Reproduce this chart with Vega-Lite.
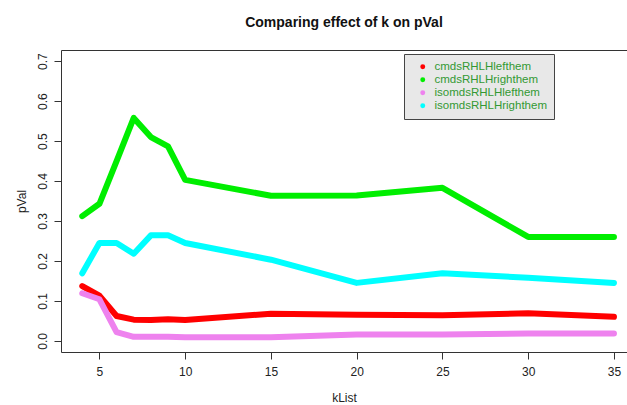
{
  "$schema": "https://vega.github.io/schema/vega-lite/v6.json",
  "autosize": {"type": "none"},
  "padding": {"left": 61, "top": 50, "right": 0, "bottom": 53},
  "width": 566,
  "height": 302,
  "background": "white",
  "title": {"text": "Comparing effect of k on pVal", "fontSize": 14, "font": "Liberation Sans", "fontWeight": "bold", "color": "#111111", "anchor": "middle", "offset": 20},
  "config": {"view": {"stroke": "#333333", "strokeWidth": 1}, "font": "Liberation Sans"},
  "data": {"values": [
    {"k": 4, "method": "cmdsRHLHlefthem", "pVal": 0.137},
    {"k": 5, "method": "cmdsRHLHlefthem", "pVal": 0.113},
    {"k": 6, "method": "cmdsRHLHlefthem", "pVal": 0.062},
    {"k": 7, "method": "cmdsRHLHlefthem", "pVal": 0.053},
    {"k": 8, "method": "cmdsRHLHlefthem", "pVal": 0.052},
    {"k": 9, "method": "cmdsRHLHlefthem", "pVal": 0.054},
    {"k": 10, "method": "cmdsRHLHlefthem", "pVal": 0.052},
    {"k": 15, "method": "cmdsRHLHlefthem", "pVal": 0.068},
    {"k": 20, "method": "cmdsRHLHlefthem", "pVal": 0.065},
    {"k": 25, "method": "cmdsRHLHlefthem", "pVal": 0.064},
    {"k": 30, "method": "cmdsRHLHlefthem", "pVal": 0.069},
    {"k": 35, "method": "cmdsRHLHlefthem", "pVal": 0.060},
    {"k": 4, "method": "cmdsRHLHrighthem", "pVal": 0.312},
    {"k": 5, "method": "cmdsRHLHrighthem", "pVal": 0.343},
    {"k": 6, "method": "cmdsRHLHrighthem", "pVal": 0.450},
    {"k": 7, "method": "cmdsRHLHrighthem", "pVal": 0.558},
    {"k": 8, "method": "cmdsRHLHrighthem", "pVal": 0.510},
    {"k": 9, "method": "cmdsRHLHrighthem", "pVal": 0.487},
    {"k": 10, "method": "cmdsRHLHrighthem", "pVal": 0.403},
    {"k": 15, "method": "cmdsRHLHrighthem", "pVal": 0.363},
    {"k": 20, "method": "cmdsRHLHrighthem", "pVal": 0.364},
    {"k": 25, "method": "cmdsRHLHrighthem", "pVal": 0.383},
    {"k": 30, "method": "cmdsRHLHrighthem", "pVal": 0.260},
    {"k": 35, "method": "cmdsRHLHrighthem", "pVal": 0.260},
    {"k": 4, "method": "isomdsRHLHlefthem", "pVal": 0.119},
    {"k": 5, "method": "isomdsRHLHlefthem", "pVal": 0.104},
    {"k": 6, "method": "isomdsRHLHlefthem", "pVal": 0.022},
    {"k": 7, "method": "isomdsRHLHlefthem", "pVal": 0.010},
    {"k": 8, "method": "isomdsRHLHlefthem", "pVal": 0.010},
    {"k": 9, "method": "isomdsRHLHlefthem", "pVal": 0.010},
    {"k": 10, "method": "isomdsRHLHlefthem", "pVal": 0.009},
    {"k": 15, "method": "isomdsRHLHlefthem", "pVal": 0.009},
    {"k": 20, "method": "isomdsRHLHlefthem", "pVal": 0.016},
    {"k": 25, "method": "isomdsRHLHlefthem", "pVal": 0.016},
    {"k": 30, "method": "isomdsRHLHlefthem", "pVal": 0.018},
    {"k": 35, "method": "isomdsRHLHlefthem", "pVal": 0.018},
    {"k": 4, "method": "isomdsRHLHrighthem", "pVal": 0.169},
    {"k": 5, "method": "isomdsRHLHrighthem", "pVal": 0.245},
    {"k": 6, "method": "isomdsRHLHrighthem", "pVal": 0.245},
    {"k": 7, "method": "isomdsRHLHrighthem", "pVal": 0.218},
    {"k": 8, "method": "isomdsRHLHrighthem", "pVal": 0.264},
    {"k": 9, "method": "isomdsRHLHrighthem", "pVal": 0.264},
    {"k": 10, "method": "isomdsRHLHrighthem", "pVal": 0.245},
    {"k": 15, "method": "isomdsRHLHrighthem", "pVal": 0.203},
    {"k": 20, "method": "isomdsRHLHrighthem", "pVal": 0.145},
    {"k": 25, "method": "isomdsRHLHrighthem", "pVal": 0.169},
    {"k": 30, "method": "isomdsRHLHrighthem", "pVal": 0.158},
    {"k": 35, "method": "isomdsRHLHrighthem", "pVal": 0.145}
  ]},
  "mark": {"type": "line", "strokeWidth": 6, "strokeCap": "round", "strokeJoin": "round"},
  "encoding": {
    "x": {
      "field": "k", "type": "quantitative",
      "scale": {"domain": [2.76, 35.76], "nice": false, "zero": false},
      "axis": {"values": [5, 10, 15, 20, 25, 30, 35], "title": "kList", "grid": false, "domain": false,
        "tickSize": 7, "tickColor": "#333333", "labelFontSize": 12, "labelPadding": 7, "labelColor": "#222222",
        "labelFont": "Liberation Sans", "titleFont": "Liberation Sans",
        "titleFontSize": 12, "titleFontWeight": "normal", "titlePadding": 15, "titleColor": "#222222"}
    },
    "y": {
      "field": "pVal", "type": "quantitative",
      "scale": {"domain": [-0.028, 0.728], "nice": false, "zero": false},
      "axis": {"values": [0, 0.1, 0.2, 0.3, 0.4, 0.5, 0.6, 0.7], "format": ".1f", "title": "pVal", "grid": false, "domain": false,
        "tickSize": 7, "tickColor": "#333333", "labelFontSize": 12, "labelPadding": 5, "labelColor": "#222222",
        "labelAngle": -90, "labelAlign": "center", "labelBaseline": "bottom",
        "labelFont": "Liberation Sans", "titleFont": "Liberation Sans",
        "titleFontSize": 12, "titleFontWeight": "normal", "titlePadding": 8, "titleColor": "#222222"}
    },
    "color": {
      "field": "method", "type": "nominal",
      "scale": {"domain": ["cmdsRHLHlefthem", "cmdsRHLHrighthem", "isomdsRHLHlefthem", "isomdsRHLHrighthem"],
        "range": ["#ff0000", "#00ee00", "#ee82ee", "#00ffff"]},
      "legend": {"title": null, "orient": "none", "legendX": 343, "legendY": 4,
        "fillColor": "#e8e8e8", "strokeColor": "#444444", "padding": 7,
        "symbolType": "circle", "symbolSize": 6, "symbolStrokeWidth": 2.5, "symbolOffset": 6,
        "labelFontSize": 11.5, "labelFont": "Liberation Sans", "labelColor": "#339933", "labelOffset": 6,
        "rowPadding": 0}
    }
  }
}
